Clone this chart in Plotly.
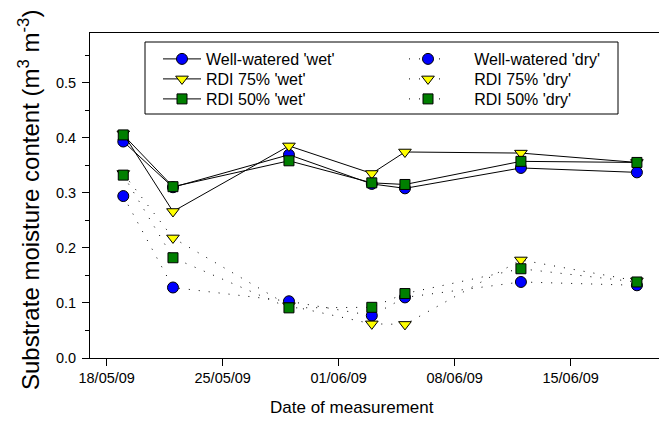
import plotly.graph_objects as go

dates = ["2009-05-19", "2009-05-22", "2009-05-29", "2009-06-03", "2009-06-05", "2009-06-12", "2009-06-19"]

ww_wet = [0.393, 0.310, 0.369, 0.316, 0.308, 0.345, 0.337]
rdi75_wet = [0.407, 0.266, 0.385, 0.335, 0.374, 0.372, 0.355]
rdi50_wet = [0.405, 0.311, 0.358, 0.318, 0.315, 0.357, 0.355]

ww_dry = [0.294, 0.128, 0.103, 0.077, 0.110, 0.138, 0.132]
rdi75_dry = [0.335, 0.218, 0.095, 0.062, 0.061, 0.178, 0.140]
rdi50_dry = [0.332, 0.182, 0.091, 0.092, 0.117, 0.162, 0.138]

tick_dates = ["2009-05-18", "2009-05-25", "2009-06-01", "2009-06-08", "2009-06-15"]
tick_text = ["18/05/09", "25/05/09", "01/06/09", "08/06/09", "15/06/09"]

FONT = "Liberation Sans, Arial, sans-serif"
NB = "\u00a0"

# name, values, symbol, colour, size, dash, legend id, legend column px, row centre px, name prefix
series = [
    ("Well-watered 'wet'", ww_wet, "circle", "#0000FF", 11, "solid", "legend", 158, 58, ""),
    ("RDI 75% 'wet'", rdi75_wet, "triangle-down", "#FFFF00", 11, "solid", "legend2", 158, 78, ""),
    ("RDI 50% 'wet'", rdi50_wet, "square", "#007F00", 10, "solid", "legend3", 158, 98, ""),
    ("Well-watered 'dry'", ww_dry, "circle", "#0000FF", 11, "1px,9px", "legend4", 404, 58, NB * 5),
    ("RDI 75% 'dry'", rdi75_dry, "triangle-down", "#FFFF00", 11, "1px,9px", "legend5", 404, 78, NB * 5),
    ("RDI 50% 'dry'", rdi50_dry, "square", "#007F00", 10, "1px,9px", "legend6", 404, 98, NB * 5),
]

PL, PR, PT, PB = 90, 659, 33, 358
W = PR - PL
H = PB - PT

fig = go.Figure()
legends = {}
for name, vals, sym, col, size, dash, leg, lx, ly, pre in series:
    fig.add_trace(go.Scatter(
        x=dates, y=vals, name=pre + name, mode="lines+markers",
        line=dict(color="black", width=1, dash=dash),
        marker=dict(symbol=sym, color=col, size=size, line=dict(color="black", width=1)),
        legend=leg,
    ))
    legends[leg] = dict(x=(lx - PL) / W, y=(PB - (ly - 16)) / H, xanchor="left", yanchor="top",
                        bgcolor="rgba(0,0,0,0)", borderwidth=0,
                        font=dict(size=16, family=FONT), itemwidth=38)

fig.update_layout(
    width=659, height=423,
    margin=dict(l=PL, r=659 - PR, t=PT, b=423 - PB),
    paper_bgcolor="white", plot_bgcolor="white",
    font=dict(family=FONT, color="black", size=14),
    showlegend=True,
    **legends,
    xaxis=dict(
        type="date",
        range=["2009-05-16 23:48", "2009-06-20 08:00"],
        tickvals=tick_dates, ticktext=tick_text,
        showline=True, linecolor="black", linewidth=1, mirror=True,
        ticks="outside", ticklen=7, tickcolor="black",
        showgrid=False, zeroline=False,
        tickfont=dict(size=14.5),
    ),
    yaxis=dict(
        range=[0, 0.59], dtick=0.1, tick0=0, tickformat=".1f",
        showline=True, linecolor="black", linewidth=1, mirror=False,
        ticks="outside", ticklen=7, tickcolor="black",
        minor=dict(dtick=0.05, ticks="outside", ticklen=4, tickcolor="black"),
        showgrid=False, zeroline=False,
        tickfont=dict(size=14.5), ticklabelstandoff=3,
    ),
    shapes=[dict(type="rect", xref="paper", yref="paper",
                 x0=(145 - PL) / W, x1=(618 - PL) / W,
                 y0=(PB - 114) / H, y1=(PB - 42) / H,
                 line=dict(color="black", width=1), fillcolor="rgba(0,0,0,0)")],
    annotations=[
        dict(text="Date of measurement", xref="paper", yref="paper",
             x=(352 - PL) / W, y=(PB - 408) / H, xanchor="center", yanchor="middle",
             showarrow=False, font=dict(size=17)),
        dict(text="Substrate moisture content (m<sup>3</sup> m<sup>-3</sup>)",
             xref="paper", yref="paper", textangle=-90,
             x=(29 - PL) / W, y=(PB - 200) / H, xanchor="center", yanchor="middle",
             showarrow=False, font=dict(size=24)),
    ],
)

fig.write_html("out.html")
